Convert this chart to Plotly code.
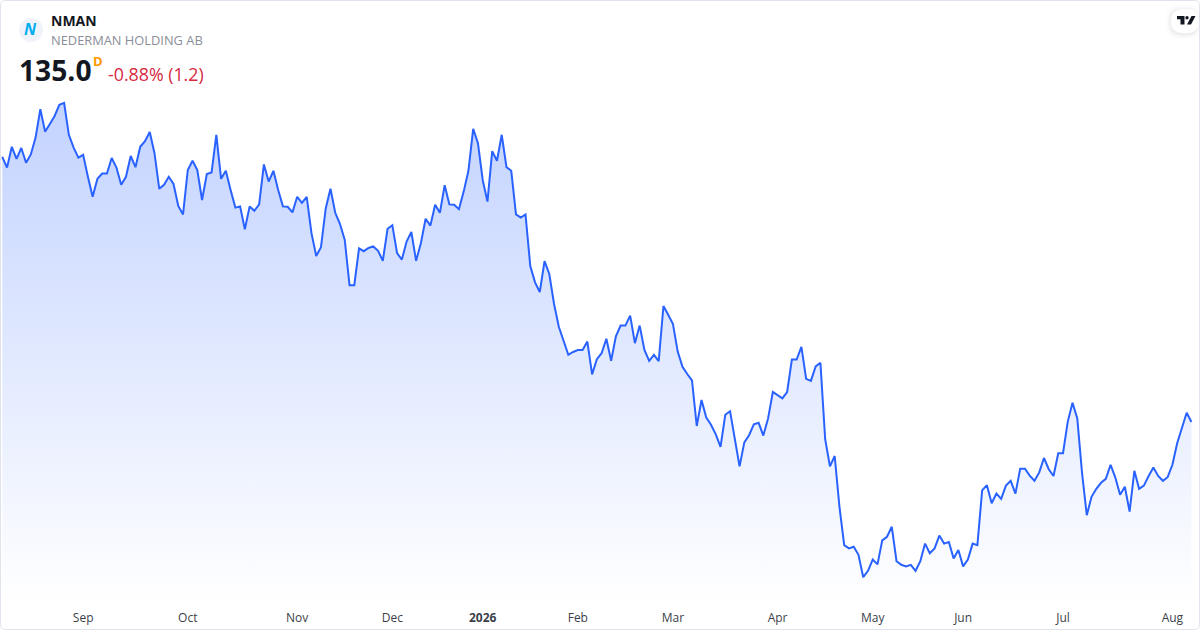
import pandas as pd
import plotly.graph_objects as go

# daily closes (no price axis shown, so the scale is estimated)
prices = [
    201.3, 198.6, 203.8, 200.8, 203.5, 199.8, 201.9, 206.1, 213.2, 207.6,
    209.5, 211.5, 214.3, 214.8, 206.8, 203.6, 201.1, 201.8, 196.3, 191.3,
    195.8, 197.1, 197.1, 201.0, 198.6, 194.3, 196.3, 201.5, 198.7, 203.8,
    205.2, 207.5, 202.2, 193.3, 194.3, 196.3, 194.5, 189.0, 186.9, 198.0,
    200.3, 198.0, 190.5, 197.0, 197.4, 206.8, 195.8, 197.8, 193.0, 188.6,
    188.9, 183.2, 188.9, 187.8, 189.4, 199.4, 195.1, 197.8, 193.0, 188.9,
    188.8, 187.4, 191.3, 189.8, 191.3, 182.2, 176.5, 178.7, 188.4, 193.3,
    187.3, 184.5, 180.5, 169.2, 169.2, 178.4, 177.7, 178.5, 178.9, 177.8,
    175.3, 183.3, 184.2, 177.2, 175.6, 180.1, 182.5, 175.3, 179.7, 185.8,
    184.1, 189.3, 187.3, 194.2, 189.4, 189.3, 188.2, 192.6, 197.8, 208.3,
    204.7, 195.5, 190.1, 202.7, 200.3, 206.8, 198.7, 197.8, 186.9, 186.1,
    186.9, 174.0, 169.9, 167.5, 175.2, 172.0, 164.5, 158.8, 155.3, 151.8,
    152.5, 153.0, 153.0, 155.1, 146.9, 150.7, 152.2, 155.8, 150.3, 156.4,
    159.1, 159.1, 161.6, 154.7, 159.1, 153.0, 150.3, 151.8, 150.2, 164.0,
    161.8, 159.5, 152.6, 148.8, 147.0, 145.4, 134.0, 140.5, 136.1, 134.3,
    131.9, 128.8, 136.8, 137.7, 130.8, 123.9, 129.9, 131.7, 134.4, 134.8,
    131.6, 135.9, 142.5, 141.8, 140.9, 142.5, 150.6, 150.6, 153.8, 145.8,
    145.3, 148.9, 149.8, 130.7, 123.9, 126.5, 113.8, 104.2, 103.4, 103.8,
    101.8, 96.2, 97.8, 100.6, 99.4, 105.4, 106.3, 108.8, 100.2, 99.3,
    98.9, 99.3, 97.8, 100.2, 104.6, 102.2, 103.4, 106.6, 104.6, 105.0,
    100.9, 103.0, 98.9, 100.6, 104.6, 104.2, 117.9, 119.2, 114.7, 117.1,
    115.8, 119.1, 120.3, 117.1, 123.3, 123.3, 121.6, 120.3, 122.4, 126.0,
    123.2, 121.5, 127.2, 127.2, 135.1, 139.8, 135.9, 122.3, 111.7, 116.3,
    118.3, 119.8, 120.8, 124.3, 121.1, 116.8, 118.8, 112.6, 122.8, 118.3,
    119.1, 121.5, 123.6, 121.5, 120.3, 121.2, 124.3, 129.7, 133.4, 137.3,
    135.0,
]
holidays = ["2025-12-24", "2025-12-25", "2025-12-26", "2025-12-31", "2026-01-01", "2026-01-06",
            "2026-04-03", "2026-04-06", "2026-05-01", "2026-05-14", "2026-06-19"]
tick_dates = ["2025-09-01", "2025-10-01", "2025-11-03", "2025-12-01", "2026-01-02", "2026-02-02",
              "2026-03-02", "2026-04-01", "2026-05-04", "2026-06-01", "2026-07-01", "2026-08-03"]
tick_labels = ["Sep", "Oct", "Nov", "Dec", "<b>2026</b>", "Feb", "Mar", "Apr", "May", "Jun", "Jul", "Aug"]

dates = pd.bdate_range("2025-08-07", periods=len(prices), freq="C", holidays=holidays).strftime("%Y-%m-%d").tolist()

W = 1200
PLOT_H = 604
FONT = "Open Sans"


def px(x):
    return x / W


def py(y):
    return 1 - y / PLOT_H


def path(points):
    return "M " + " L ".join(f"{px(x):.5f},{py(y):.5f}" for x, y in points) + " Z"


def rounded(x0, y0, x1, y1, r):
    # rectangle with rounded corners, in picture pixels
    return (f"M {px(x0 + r):.5f},{py(y0):.5f} L {px(x1 - r):.5f},{py(y0):.5f} "
            f"Q {px(x1):.5f},{py(y0):.5f} {px(x1):.5f},{py(y0 + r):.5f} L {px(x1):.5f},{py(y1 - r):.5f} "
            f"Q {px(x1):.5f},{py(y1):.5f} {px(x1 - r):.5f},{py(y1):.5f} L {px(x0 + r):.5f},{py(y1):.5f} "
            f"Q {px(x0):.5f},{py(y1):.5f} {px(x0):.5f},{py(y1 - r):.5f} L {px(x0):.5f},{py(y0 + r):.5f} "
            f"Q {px(x0):.5f},{py(y0):.5f} {px(x0 + r):.5f},{py(y0):.5f} Z")


fig = go.Figure()
fig.add_trace(go.Scatter(
    x=dates,
    y=prices,
    mode="lines",
    line=dict(color="#2962ff", width=2),
    fill="tozeroy",
    fillcolor="rgba(41,98,255,0.28)",
    fillgradient=dict(type="vertical", start=214.8, stop=89.5,
                      colorscale=[[0, "rgba(41,98,255,0.28)"], [1, "rgba(41,98,255,0)"]]),
    hoverinfo="x+y",
))

shapes = [
    dict(type="path", xref="paper", yref="paper", path=rounded(0.5, 0.5, 1199.5, 629.5, 5),
         line=dict(color="#e0e3eb", width=1), fillcolor="rgba(0,0,0,0)"),
    dict(type="circle", xref="paper", yref="paper", x0=px(19), x1=px(43), y0=py(18), y1=py(42),
         fillcolor="#f0f3fa", line=dict(width=0)),
]
# TradingView badge, top right
for grow, alpha in [(5, 0.012), (3, 0.02), (1.5, 0.03)]:
    shapes.append(dict(type="path", xref="paper", yref="paper",
                       path=rounded(1171 - grow, 9 - grow + 1, 1199, 33 + grow + 1, 12),
                       fillcolor=f"rgba(0,0,0,{alpha})", line=dict(width=0)))
shapes.append(dict(type="path", xref="paper", yref="paper", path=rounded(1171, 9, 1199, 33, 12),
                   fillcolor="#ffffff", line=dict(width=0)))
for pts in [
    [(1177, 16), (1184.5, 16), (1184.5, 24.5), (1180.5, 24.5), (1180.5, 19.3), (1177, 19.3)],
    [(1191.5, 16), (1195.5, 16), (1191, 24.5), (1187, 24.5)],
]:
    shapes.append(dict(type="path", xref="paper", yref="paper", path=path(pts),
                       fillcolor="#131722", line=dict(width=0)))
shapes.append(dict(type="circle", xref="paper", yref="paper", x0=px(1185.3), x1=px(1188.7), y0=py(16), y1=py(19.4),
                   fillcolor="#131722", line=dict(width=0)))


def label(text, x, y, size, color, xanchor="left"):
    return dict(text=text, xref="paper", yref="paper", x=px(x), y=py(y), xanchor=xanchor, yanchor="middle",
                showarrow=False, font=dict(family=FONT, size=size, color=color), borderpad=0)


annotations = [
    label("<b><i>N</i></b>", 30.5, 29.5, 16, "#00aeef", "center"),
    label("<b>NMAN</b>", 49.5, 20.5, 14, "#131722"),
    label("NEDERMAN HOLDING AB", 49.5, 40, 12.85, "#8a8e99"),
    label("<b>135.0</b>", 17.5, 70, 28.2, "#131722"),
    label("<b>D</b>", 91.5, 61, 13, "#ff9800"),
    label("-0.88% (1.2)", 106.5, 74, 17.8, "#d5293f"),
]

fig.update_layout(
    width=W,
    height=630,
    margin=dict(l=0, r=0, t=0, b=26),
    paper_bgcolor="#ffffff",
    plot_bgcolor="#ffffff",
    showlegend=False,
    shapes=shapes,
    annotations=annotations,
    xaxis=dict(
        type="category",
        range=[-0.48, 251.8],
        tickmode="array",
        tickvals=tick_dates,
        ticktext=tick_labels,
        ticks="",
        tickangle=0,
        ticklabelstandoff=5,
        showgrid=False,
        showline=False,
        zeroline=False,
        tickfont=dict(family=FONT, size=12, color="#3b3f4a"),
    ),
    yaxis=dict(range=[89.5, 240.5], visible=False, showgrid=False, zeroline=False),
)

fig.write_html("out.html", post_script="document.body.style.margin='0';", config={"displayModeBar": False})
